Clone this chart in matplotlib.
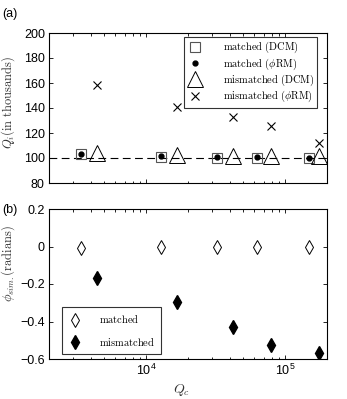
import matplotlib
matplotlib.use("Agg")
import matplotlib.pyplot as plt
import numpy as np

plt.rcParams['mathtext.fontset'] = 'cm'
plt.rcParams['font.family'] = ['Liberation Sans', 'DejaVu Sans']

# Data
qc_matched = [3390, 12800, 32400, 63000, 149000]
qc_mismatched = [4420, 16600, 41800, 79300, 176500]
qi_matched_dcm = [103.5, 101.0, 100.2, 100.2, 99.8]
qi_matched_phirm = [103.2, 101.3, 101.1, 100.5, 100.3]
qi_mismatched_dcm = [104.3, 102.4, 101.3, 101.3, 101.3]
qi_mismatched_phirm = [158.2, 141.2, 132.9, 125.6, 112.1]
phi_matched = [-0.006, -0.003, -0.001, -0.001, -0.001]
phi_mismatched = [-0.17, -0.296, -0.428, -0.526, -0.57]

legend_a = [r'$\mathrm{matched\ (DCM)}$', r'$\mathrm{matched\ (}\phi\mathrm{RM)}$',
            r'$\mathrm{mismatched\ (DCM)}$', r'$\mathrm{mismatched\ (}\phi\mathrm{RM)}$']
legend_b = [r'$\mathrm{matched}$', r'$\mathrm{mismatched}$']

W, H = 347, 399
fig = plt.figure(figsize=(W/100, H/100), dpi=100)
ax1 = fig.add_axes([49/W, 1-183/H, (327-49)/W, (183-33)/H])
ax2 = fig.add_axes([49/W, 1-359/H, (327-49)/W, (359-209)/H])

for ax in (ax1, ax2):
    ax.set_xscale('log')
    ax.set_xlim(2e3, 2e5)
    ax.tick_params(which='both', direction='in', top=True, right=True, labelsize=9, width=0.6, pad=3)
    ax.tick_params(which='major', length=3)
    ax.tick_params(which='minor', length=1.8)
    for s in ax.spines.values():
        s.set_linewidth(0.8)

ax1.axhline(100, color='black', lw=0.8, dashes=(7, 4), zorder=0)
l1, = ax1.plot(qc_matched, qi_matched_dcm, 's', ms=6.5, mfc='none', mec='#555555', mew=0.8, ls='none')
l2, = ax1.plot(qc_matched, qi_matched_phirm, 'o', ms=3.5, mfc='black', mec='black', ls='none')
l3, = ax1.plot(qc_mismatched, qi_mismatched_dcm, '^', ms=11, mfc='none', mec='black', mew=0.7, ls='none')
l4, = ax1.plot(qc_mismatched, qi_mismatched_phirm, 'x', ms=6, mec='black', mew=0.8, ls='none')
ax1.set_ylim(80, 200)
ax1.set_yticks([80, 100, 120, 140, 160, 180, 200])
ax1.tick_params(axis='x', which='both', labelbottom=False)
ax1.set_ylabel(r'$Q_i\mathrm{(in\ thousands)}$', fontsize=9, color='#333333')
ax1.yaxis.set_label_coords((17-49)/278, (183-102)/150)
leg1 = ax1.legend([l1, l2, l3, l4], legend_a,
                  loc='upper left', bbox_to_anchor=(184/W, 1-37/H), bbox_transform=fig.transFigure,
                  fontsize=7.5, frameon=True, fancybox=False, edgecolor='black', handlelength=1.5,
                  handletextpad=1.9, borderpad=0.3, labelspacing=0.1, borderaxespad=0)
leg1.get_frame().set_linewidth(0.8)
fig.text(2/W, 1-14/H, '(a)', fontsize=9, va='center')

d1, = ax2.plot(qc_matched, phi_matched, 'd', ms=7.5, mfc='white', mec='black', mew=0.7, ls='none')
d2, = ax2.plot(qc_mismatched, phi_mismatched, 'd', ms=7.5, mfc='black', mec='black', ls='none')
ax2.set_ylim(-0.6, 0.2)
ax2.set_yticks([-0.6, -0.4, -0.2, 0, 0.2])
ax2.set_yticklabels(['\u22120.6', '\u22120.4', '\u22120.2', '0', '0.2'])
ax2.set_ylabel(r'$\phi_{sim.}\mathrm{(radians)}$', fontsize=9, color='#333333')
ax2.yaxis.set_label_coords((17-49)/278, (359-263)/150)
ax2.set_xlabel(r'$Q_c$', fontsize=10, color='#333333')
ax2.xaxis.set_label_coords((182-49)/278, (359-382)/150)
leg2 = ax2.legend([d1, d2], legend_b, loc='upper left',
                  bbox_to_anchor=(62/W, 1-307/H), bbox_transform=fig.transFigure,
                  fontsize=7.5, frameon=True, fancybox=False,
                  edgecolor='black', handlelength=1.3, handletextpad=1.65, borderpad=0.6,
                  labelspacing=1.0, borderaxespad=0)
leg2.get_frame().set_linewidth(0.8)
fig.text(2/W, 1-210/H, '(b)', fontsize=9, va='center')

fig.savefig('out.png', dpi=100)
